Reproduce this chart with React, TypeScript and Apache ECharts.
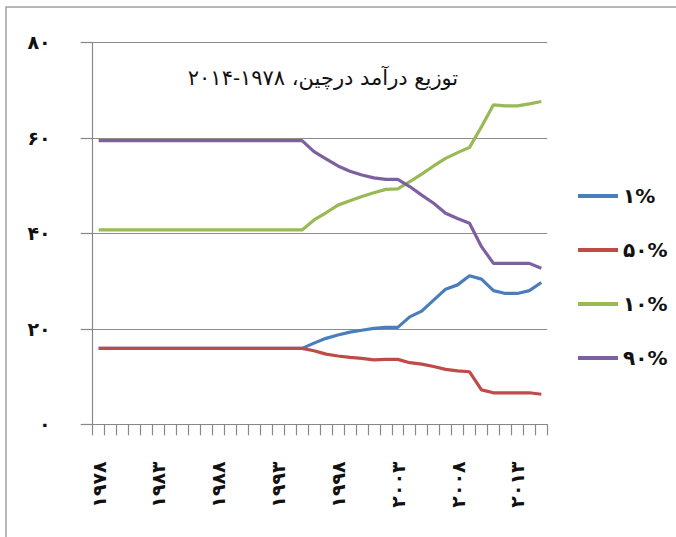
import React, { useEffect, useRef } from "react";
import * as echarts from "echarts";

const years = [
  "1978", "1979", "1980", "1981", "1982", "1983", "1984", "1985", "1986", "1987",
  "1988", "1989", "1990", "1991", "1992", "1993", "1994", "1995", "1996", "1997",
  "1998", "1999", "2000", "2001", "2002", "2003", "2004", "2005", "2006", "2007",
  "2008", "2009", "2010", "2011", "2012", "2013", "2014", "2015",
];

const top1 = [
  15.9, 15.9, 15.9, 15.9, 15.9, 15.9, 15.9, 15.9, 15.9, 15.9,
  15.9, 15.9, 15.9, 15.9, 15.9, 15.9, 15.9, 15.9, 17.0, 18.0,
  18.7, 19.3, 19.7, 20.1, 20.3, 20.3, 22.5, 23.7, 26.0, 28.3,
  29.2, 31.1, 30.4, 28.0, 27.4, 27.4, 28.0, 29.7,
];

const bottom50 = [
  15.9, 15.9, 15.9, 15.9, 15.9, 15.9, 15.9, 15.9, 15.9, 15.9,
  15.9, 15.9, 15.9, 15.9, 15.9, 15.9, 15.9, 15.9, 15.4, 14.7,
  14.3, 14.0, 13.8, 13.5, 13.6, 13.6, 12.9, 12.6, 12.1, 11.5,
  11.2, 11.0, 7.2, 6.6, 6.6, 6.6, 6.6, 6.3,
];

const top10 = [
  40.7, 40.7, 40.7, 40.7, 40.7, 40.7, 40.7, 40.7, 40.7, 40.7,
  40.7, 40.7, 40.7, 40.7, 40.7, 40.7, 40.7, 40.7, 42.8, 44.3,
  45.9, 46.8, 47.7, 48.5, 49.2, 49.3, 50.8, 52.4, 54.1, 55.7,
  56.9, 58.0, 62.3, 66.9, 66.7, 66.7, 67.1, 67.6,
];

const bottom90 = [
  59.4, 59.4, 59.4, 59.4, 59.4, 59.4, 59.4, 59.4, 59.4, 59.4,
  59.4, 59.4, 59.4, 59.4, 59.4, 59.4, 59.4, 59.4, 57.1, 55.6,
  54.1, 53.0, 52.2, 51.6, 51.3, 51.3, 49.8, 48.0, 46.3, 44.2,
  43.1, 42.1, 37.2, 33.7, 33.7, 33.7, 33.7, 32.7,
];

const seriesNames = ["۱%", "۵۰%", "۱۰%", "۹۰%"];
const yTickLabels = ["۰", "۲۰", "۴۰", "۶۰", "۸۰"];
const titleText = "توزیع درآمد درچین، ۱۹۷۸-۲۰۱۴";

const colors = ["#4a7ebb", "#be4b48", "#98b954", "#7d60a0"];

const toPersian = (s: string) =>
  s.replace(/[0-9]/g, (d) => "۰۱۲۳۴۵۶۷۸۹"[Number(d)]);

export default function App() {
  const ref = useRef<HTMLDivElement>(null);

  useEffect(() => {
    if (!ref.current) return;
    const chart = echarts.init(ref.current, null, { renderer: "svg" });
    const dataSets = [top1, bottom50, top10, bottom90];
    chart.setOption({
      animation: false,
      backgroundColor: "#ffffff",
      color: colors,
      title: {
        text: titleText,
        left: 318,
        top: 62,
        textAlign: "center",
        textStyle: {
          fontFamily: "DejaVu Serif, DejaVu Sans",
          fontSize: 21,
          fontWeight: "normal",
          color: "#111",
        },
      },
      legend: {
        orient: "vertical",
        left: 573,
        top: 180,
        itemWidth: 40,
        itemHeight: 4,
        itemGap: 32,
        icon: "rect",
        data: seriesNames,
        textStyle: {
          fontFamily: "DejaVu Sans",
          fontSize: 20,
          fontWeight: "bold",
          color: "#111",
          lineHeight: 22,
        },
      },
      graphic: [
        {
          type: "rect",
          shape: { x: 6, y: 7, width: 900, height: 900 },
          style: { fill: "none", stroke: "#a0a0a0", lineWidth: 1.5 },
          silent: true,
        },
      ],
      grid: {
        left: 92.7,
        right: 128.7,
        top: 42.3,
        bottom: 112.7,
        containLabel: false,
      },
      xAxis: {
        type: "category",
        data: years,
        boundaryGap: true,
        axisLine: { show: true, lineStyle: { color: "#888", width: 1.2 } },
        axisTick: {
          show: true,
          interval: 0,
          length: 11,
          lineStyle: { color: "#888", width: 1.2 },
        },
        axisLabel: {
          interval: 4,
          rotate: 90,
          margin: 37,
          fontFamily: "DejaVu Sans",
          fontSize: 19,
          fontWeight: "bold",
          color: "#111",
          formatter: (v: string) => toPersian(v),
        },
        splitLine: { show: false },
      },
      yAxis: {
        type: "value",
        min: 0,
        max: 80,
        interval: 20,
        axisLine: { show: true, lineStyle: { color: "#888", width: 1.2 } },
        axisTick: {
          show: true,
          length: 12,
          lineStyle: { color: "#888", width: 1.2 },
        },
        axisLabel: {
          margin: 42,
          fontFamily: "DejaVu Sans",
          fontSize: 19,
          fontWeight: "bold",
          color: "#111",
          padding: [0, 0, 10, 0],
          formatter: (v: number) => yTickLabels[Math.round(v / 20)],
        },
        splitLine: { show: true, lineStyle: { color: "#8c8c8c", width: 1.2 } },
      },
      series: seriesNames.map((name, i) => ({
        name,
        type: "line",
        data: dataSets[i],
        showSymbol: false,
        symbol: "none",
        lineStyle: { width: 3.2, color: colors[i] },
        itemStyle: { color: colors[i] },
      })),
    });
    return () => chart.dispose();
  }, []);

  return (
    <div
      ref={ref}
      style={{ position: "fixed", left: 0, top: 0, width: 676, height: 537 }}
    />
  );
}
